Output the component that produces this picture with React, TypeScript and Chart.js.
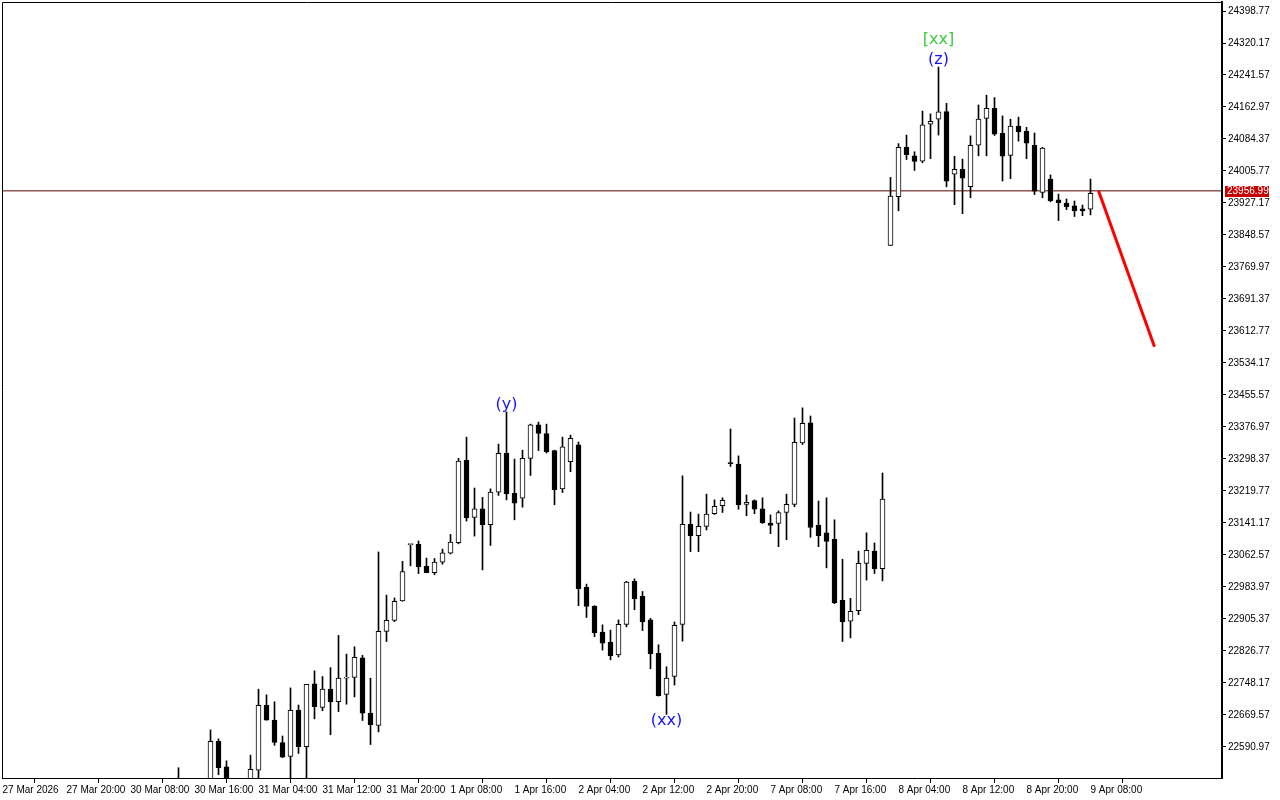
import React, { useEffect, useRef } from 'react';
import { Chart, registerables } from 'chart.js';

Chart.register(...registerables);

// ---- data ----
const firstBar = 22; // index of the first candle in the series below (H1 bars)

const opens = [
  22490, 22495, 22480, 22470, 22495, 22605, 22542, 22490, 22480, 22495,
  22534, 22693, 22657, 22602, 22568, 22681, 22592, 22746, 22688, 22733,
  22702, 22760, 22762, 22810, 22674, 22644, 22875, 22902, 22950, 23088,
  23089, 23035, 23019, 23045, 23067, 23093, 23295, 23155, 23176, 23137,
  23217, 23313, 23214, 23202, 23300, 23382, 23361, 23319, 23225, 23292,
  23333, 22983, 22937, 22873, 22848, 22817, 22892, 22998, 22961, 22903,
  22821, 22720, 22764, 22892, 23138, 23110, 23133, 23164, 23184, 23289,
  23286, 23187, 23196, 23176, 23141, 23140, 23167, 23187, 23338, 23387,
  23136, 23117, 23101, 22951, 22900, 22926, 23042, 23072, 23029, 23823,
  23943, 24064, 24043, 24030, 24121, 24133, 24152, 23998, 24010, 23967,
  24069, 24135, 24160, 24098, 24044, 24116, 24103, 24069, 23953, 23986,
  23935, 23927, 23920, 23913, 23912,
];
const highs = [
  22540, 22505, 22500, 22505, 22633, 22611, 22557, 22505, 22500, 22571,
  22733, 22719, 22702, 22618, 22736, 22694, 22745, 22778, 22764, 22786,
  22865, 22819, 22837, 22816, 22760, 23070, 22964, 22957, 23047, 23089,
  23097, 23055, 23054, 23077, 23113, 23300, 23352, 23227, 23204, 23225,
  23335, 23414, 23298, 23320, 23384, 23389, 23384, 23320, 23352, 23357,
  23340, 22991, 22938, 22891, 22878, 22903, 22998, 23004, 22973, 22907,
  22842, 22788, 22898, 23257, 23168, 23163, 23212, 23198, 23203, 23372,
  23306, 23210, 23198, 23203, 23161, 23171, 23212, 23399, 23424, 23404,
  23195, 23203, 23149, 23052, 22956, 23072, 23117, 23092, 23264, 23990,
  24073, 24094, 24053, 24153, 24146, 24261, 24172, 24042, 24035, 24092,
  24168, 24192, 24186, 24141, 24133, 24138, 24113, 24099, 24064, 23996,
  23949, 23937, 23932, 23922, 23986,
];
const lows = [
  22470, 22460, 22450, 22460, 22490, 22523, 22470, 22460, 22455, 22485,
  22505, 22657, 22595, 22565, 22505, 22575, 22505, 22660, 22680, 22621,
  22678, 22696, 22714, 22656, 22597, 22628, 22850, 22899, 22949, 23036,
  23017, 23019, 23014, 23040, 23065, 23090, 23146, 23109, 23026, 23086,
  23209, 23198, 23149, 23180, 23258, 23319, 23313, 23186, 23216, 23267,
  22938, 22909, 22862, 22829, 22805, 22812, 22886, 22928, 22877, 22783,
  22716, 22671, 22743, 22851, 23071, 23071, 23124, 23162, 23167, 23280,
  23175, 23159, 23164, 23140, 23115, 23083, 23100, 23181, 23334, 23106,
  23083, 23031, 22943, 22850, 22859, 22916, 23001, 23017, 22999, 23823,
  23908, 24034, 24007, 24026, 24036, 24094, 23967, 23923, 23901, 23940,
  24043, 24043, 24093, 23981, 23987, 24079, 24036, 23948, 23940, 23930,
  23884, 23911, 23894, 23896, 23898,
];
const closes = [
  22500, 22480, 22470, 22495, 22605, 22540, 22490, 22480, 22495, 22536,
  22693, 22657, 22602, 22566, 22681, 22592, 22745, 22690, 22733, 22702,
  22760, 22762, 22811, 22674, 22646, 22875, 22902, 22949, 23022, 23089,
  23034, 23019, 23045, 23068, 23094, 23293, 23154, 23176, 23137, 23217,
  23312, 23213, 23190, 23300, 23382, 23361, 23316, 23223, 23328, 23349,
  22980, 22936, 22872, 22846, 22815, 22892, 22996, 22955, 22899, 22820,
  22717, 22760, 22890, 23138, 23110, 23133, 23163, 23182, 23197, 23287,
  23186, 23192, 23175, 23142, 23135, 23167, 23187, 23339, 23386, 23130,
  23110, 23096, 22945, 22899, 22924, 23042, 23074, 23029, 23200, 23944,
  24064, 24046, 24029, 24119, 24128, 24151, 23981, 24010, 23988, 24069,
  24133, 24160, 24096, 24042, 24116, 24102, 24074, 23956, 24062, 23933,
  23928, 23918, 23908, 23908, 23951,
];

const xTickIndex = [0, 8, 16, 24, 32, 40, 48, 56, 64, 72, 80, 88, 96, 104, 112, 120, 128, 136];
const xTickLabels = [
  '27 Mar 2026', '27 Mar 20:00', '30 Mar 08:00', '30 Mar 16:00', '31 Mar 04:00',
  '31 Mar 12:00', '31 Mar 20:00', '1 Apr 08:00', '1 Apr 16:00', '2 Apr 04:00',
  '2 Apr 12:00', '2 Apr 20:00', '7 Apr 08:00', '7 Apr 16:00', '8 Apr 04:00',
  '8 Apr 12:00', '8 Apr 20:00', '9 Apr 08:00',
];
const yTickValues = [
  24398.77, 24320.17, 24241.57, 24162.97, 24084.37, 24005.77, 23927.17, 23848.57,
  23769.97, 23691.37, 23612.77, 23534.17, 23455.57, 23376.97, 23298.37, 23219.77,
  23141.17, 23062.57, 22983.97, 22905.37, 22826.77, 22748.17, 22669.57, 22590.97,
];
const yMin = 22514.79;
const yMax = 24420.88;
const xMin = -0.0625;
const xMax = 152.4375;

const bidPrice = 23956.99;
const forecastIndex = [137, 144];
const forecastPrice = [23956.99, 23574];

const waveText = ['(y)', '(xx)', '(z)', '[xx]'];
const waveBar = [63, 83, 117, 117];
const waveSide = ['above', 'below', 'above', 'above'];
const waveLevel = [0, 0, 0, 1];
const waveColor = ['#1414ff', '#1414ff', '#1414ff', '#3ccc3c'];

const axisFont = '"Liberation Sans", Arial, sans-serif';
const axisFontSize = 10;

const overlayPlugin = {
  id: 'overlay',
  afterDatasetsDraw(chart: any) {
    const { ctx, chartArea, scales } = chart;
    const xs = scales.x;
    const ys = scales.y;
    ctx.save();
    // frame (left/top)
    ctx.strokeStyle = '#000';
    ctx.lineWidth = 1;
    ctx.beginPath();
    ctx.moveTo(chartArea.left + 0.5, chartArea.bottom);
    ctx.lineTo(chartArea.left + 0.5, chartArea.top + 0.5);
    ctx.lineTo(chartArea.right, chartArea.top + 0.5);
    ctx.stroke();

    // wave labels
    ctx.font = '16px "DejaVu Sans", sans-serif';
    ctx.textAlign = 'center';
    for (let i = 0; i < waveText.length; i++) {
      const idx = waveBar[i] - firstBar;
      const x = xs.getPixelForValue(waveBar[i]);
      ctx.fillStyle = waveColor[i];
      if (waveSide[i] === 'above') {
        const y = ys.getPixelForValue(highs[idx]);
        ctx.textBaseline = 'bottom';
        ctx.fillText(waveText[i], x, y + 1 - waveLevel[i] * 20);
      } else {
        const y = ys.getPixelForValue(lows[idx]);
        ctx.textBaseline = 'top';
        ctx.fillText(waveText[i], x, y - 2);
      }
    }
    ctx.restore();
  },
  afterDraw(chart: any) {
    const { ctx, scales } = chart;
    const ys = scales.y;
    const y = Math.round(ys.getPixelForValue(bidPrice));
    ctx.save();
    ctx.fillStyle = '#c80000';
    ctx.fillRect(1225, y - 5, 44, 11);
    ctx.fillStyle = '#fff';
    ctx.font = `${axisFontSize}px ${axisFont}`;
    ctx.textAlign = 'left';
    ctx.textBaseline = 'middle';
    ctx.fillText(bidPrice.toFixed(2), 1227, y + 0.5);
    ctx.restore();
  },
};

export default function App() {
  const ref = useRef<HTMLCanvasElement | null>(null);

  useEffect(() => {
    document.body.style.margin = '0';
    const canvas = ref.current;
    if (!canvas) return;

    const bodies = opens.map((o, i) => ({ x: firstBar + i, y: [o, closes[i]] }));
    const bodyColors = opens.map((o, i) => (closes[i] >= o ? '#ffffff' : '#000000'));
    const wicks = lows.map((l, i) => ({ x: firstBar + i, y: [l, highs[i]] }));

    const chart = new Chart(canvas, {
      type: 'bar',
      data: {
        datasets: [
          {
            type: 'line',
            data: forecastIndex.map((x, i) => ({ x, y: forecastPrice[i] })),
            borderColor: '#ff0000',
            borderWidth: 3,
            pointRadius: 0,
            order: 0,
          } as any,
          {
            type: 'bar',
            data: bodies as any,
            backgroundColor: bodyColors,
            borderColor: '#000000',
            borderWidth: 1,
            borderSkipped: false,
            barThickness: 5,
            grouped: false,
            minBarLength: 1,
            order: 1,
          } as any,
          {
            type: 'bar',
            data: wicks as any,
            backgroundColor: '#000000',
            borderWidth: 0,
            barThickness: 1,
            grouped: false,
            order: 2,
          } as any,
          {
            type: 'line',
            data: [
              { x: xMin, y: bidPrice },
              { x: xMax, y: bidPrice },
            ],
            borderColor: '#5a0000',
            borderWidth: 1,
            pointRadius: 0,
            order: 3,
          } as any,
        ],
      },
      options: {
        responsive: false,
        animation: false,
        devicePixelRatio: 1,
        events: [],
        layout: { padding: { left: 2, top: 2, right: 0, bottom: 0 } },
        plugins: { legend: { display: false }, tooltip: { enabled: false } },
        scales: {
          x: {
            type: 'linear',
            min: xMin,
            max: xMax,
            offset: false,
            grid: { drawOnChartArea: false, drawTicks: true, tickLength: 5, color: '#000' },
            border: { display: true, color: '#000', width: 1 },
            ticks: {
              autoSkip: false,
              maxRotation: 0,
              minRotation: 0,
              align: 'start',
              padding: 1,
              color: '#000',
              font: { family: axisFont, size: axisFontSize },
              callback: (v: any) => {
                const i = xTickIndex.indexOf(Number(v));
                return i >= 0 ? xTickLabels[i] : '';
              },
            },
            afterBuildTicks: (s: any) => {
              s.ticks = xTickIndex.map((v) => ({ value: v }));
            },
            afterFit: (s: any) => {
              s.height = 22;
              s.paddingLeft = 0;
              s.paddingRight = 0;
            },
          },
          y: {
            type: 'linear',
            position: 'right',
            min: yMin,
            max: yMax,
            grid: { drawOnChartArea: false, drawTicks: true, tickLength: 4, color: '#000' },
            border: { display: true, color: '#000', width: 2 },
            ticks: {
              padding: 2,
              color: '#000',
              font: { family: axisFont, size: axisFontSize },
              callback: (v: any) => Number(v).toFixed(2),
            },
            afterBuildTicks: (s: any) => {
              s.ticks = yTickValues.map((v) => ({ value: v }));
            },
            afterFit: (s: any) => {
              s.width = 58;
              s.paddingTop = 0;
              s.paddingBottom = 0;
            },
          },
        },
      } as any,
      plugins: [overlayPlugin],
    });

    return () => chart.destroy();
  }, []);

  return (
    <div style={{ position: 'absolute', left: 0, top: 0, width: 1280, height: 800, background: '#fff' }}>
      <canvas ref={ref} width={1280} height={800} style={{ display: 'block' }} />
    </div>
  );
}
